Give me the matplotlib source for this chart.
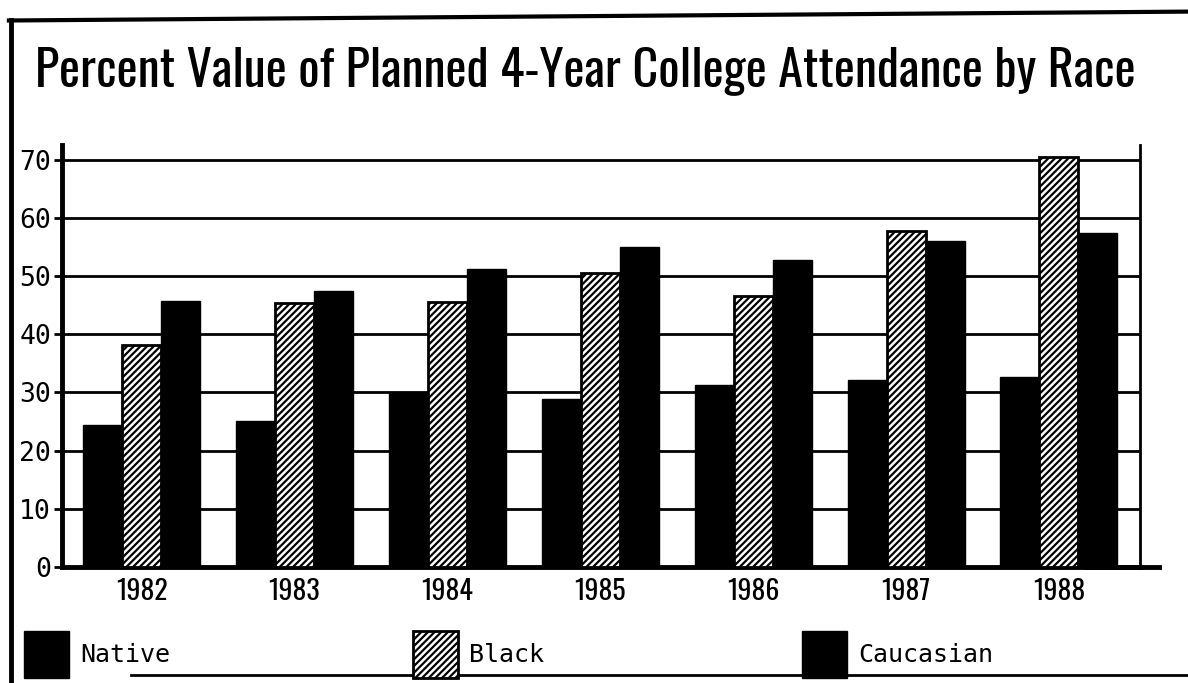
import numpy as np
import matplotlib
matplotlib.use('Agg')
import matplotlib.pyplot as plt
from matplotlib.lines import Line2D

# data
years = ['1982', '1983', '1984', '1985', '1986', '1987', '1988']
native = [24.4, 25.1, 29.9, 28.8, 31.3, 32.2, 32.7]
black = [38.2, 45.4, 45.5, 50.6, 46.6, 57.8, 70.5]
caucasian = [45.8, 47.4, 51.3, 55.0, 52.7, 56.0, 57.5]
series_names = ['Native', 'Black', 'Caucasian']
yticks = [0, 10, 20, 30, 40, 50, 60, 70]

plt.rcParams['hatch.linewidth'] = 1.6
mono = ['DejaVu Sans Mono']
narrow = ['Oswald', 'Antonio', 'Archivo Narrow', 'Liberation Sans Narrow', 'DejaVu Sans']

fig = plt.figure(figsize=(11.88, 6.83), dpi=100)
ax = fig.add_axes([0.0522, 0.170, 0.9074, 0.618])

x = np.arange(len(years))
w = 0.255
b1 = ax.bar(x - w, native, w, color='black', edgecolor='black', zorder=3)
b2 = ax.bar(x, black, w, color='white', edgecolor='black', hatch='/////', linewidth=2, zorder=3)
b3 = ax.bar(x + w, caucasian, w, color='black', edgecolor='black', zorder=3)

ax.set_xlim(-0.52, 6.53)
ax.set_ylim(0, 72.6)
ax.set_yticks(yticks)
ax.set_yticklabels([str(v) for v in yticks], family=mono, fontsize=19)
ax.set_xticks(x)
ax.set_xticklabels(years, fontsize=20, family=narrow)
ax.tick_params(axis='x', length=0, pad=8)
ax.tick_params(axis='y', length=6, width=2, pad=2)
ax.grid(axis='y', color='black', linewidth=2, zorder=0)
ax.set_axisbelow(True)

ax.spines['top'].set_visible(False)
for s in ['left', 'bottom']:
    ax.spines[s].set_linewidth(3.5)
ax.spines['right'].set_linewidth(2)
# x axis runs a little past the right frame
ax.axhline(0, xmin=0.95, xmax=1.018, color='black', linewidth=3.5, clip_on=False)

# title, sized to the width of the original
title = fig.text(0.4925, 0.896, 'Percent Value of Planned 4-Year College Attendance by Race',
                 ha='center', va='center', fontsize=40, family=narrow)
fig.canvas.draw()
tw = title.get_window_extent().width
title.set_fontsize(40 * 1100 / tw)

# one legend per entry, spread along the bottom like the original
handles = [b1, b2, b3]
for h, name, xpos in zip(handles, series_names, [0.0202, 0.3476, 0.675]):
    fig.legend([h], [name], loc='lower left', bbox_to_anchor=(xpos, 0.0073),
               frameon=False, handlelength=1.8, handleheight=2.52, handletextpad=0.44,
               borderpad=0, borderaxespad=0, prop={'family': mono, 'size': 18})

# scanned page border
fig.add_artist(Line2D([0.0093, 0.0093], [0.0, 0.97], color='black', linewidth=3.5))
fig.add_artist(Line2D([0.0075, 1.0], [0.97, 0.983], color='black', linewidth=3))
fig.add_artist(Line2D([0.11, 1.0], [0.012, 0.012], color='black', linewidth=2))

fig.savefig('out.png', dpi=100)
